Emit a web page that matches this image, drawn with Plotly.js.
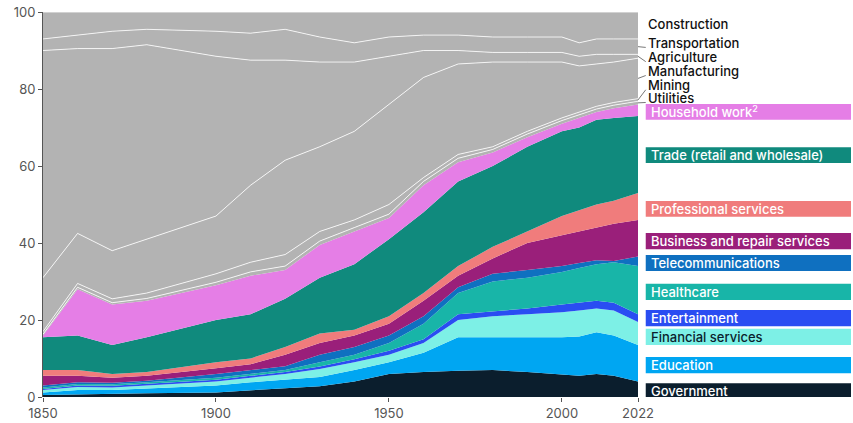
<!DOCTYPE html>
<html><head><meta charset="utf-8">
<script src="https://cdn.plot.ly/plotly-3.0.1.min.js"></script>
<style>body{margin:0;background:#fff}#chart{width:853px;height:423px}</style>
</head><body><div id="chart"></div>
<script>
var years = [1850,1860,1870,1880,1900,1910,1920,1930,1940,1950,1960,1970,1980,1990,2000,2005,2010,2015,2022];

// cumulative tops (percent), bottom to top
var topGovernment    = [0.5,0.7,0.8,1,1.2,1.8,2.3,2.8,4,6,6.5,6.8,7,6.5,5.8,5.5,6,5.5,4];
var topEducation     = [1.2,1.8,1.8,2.2,3,3.8,4.5,5.2,7,9,11.5,15.5,15.5,15.5,15.5,15.7,16.8,16,13.5];
var topFinancial     = [1.8,2.6,2.5,3,4,5,6,7.3,9,11,14,20,21,21.5,22,22.5,23,22.5,19.5];
var topEntertainment = [2.1,3,2.9,3.4,4.5,5.5,6.5,7.9,9.8,12,15,21.5,22.3,23,24,24.5,25,24.5,21.5];
var topHealthcare    = [2.5,3.4,3.3,3.8,5,6,7,9,11,14,19,27,30,31,32.5,33.5,34.5,35,34];
var topTelecom       = [3,3.8,3.7,4.2,6,7,8,11,13,16,21,28.5,32,33,34,34.8,35.5,35.3,36.5];
var topBusiness      = [5.5,5.5,5,5.5,7.5,8.5,11,14,16,19,25,31.5,36,40,42,43,44,45,46];
var topProfessional  = [7,7,6,6.5,9,10,13,16.5,17.5,21,27,34,39,43,47,48.5,50,51,53];
var topTrade         = [15.5,16,13.5,15.5,20,21.5,25.5,31,34.5,41,48,56,60,65,69,70,72,72.5,73];
var topHousehold     = [16,28,24,25,29,31.5,33,39.5,43,46.5,55,61,63.5,67.5,71,72.5,74,75,76];
var topUtilities     = [16.3,28.5,24.5,25.6,29.8,32.5,34,40.5,44,47.5,56,62,64.3,68.3,71.8,73.3,74.8,75.8,76.8];
var topMining        = [17,29.5,25.5,27,32,35,37,43,46,50,57,63,65,69,72.5,74,75.5,76.5,77.5];
var topManufacturing = [31,42.5,38,41,47,55,61.5,65,69,76,83,86.5,87,87,87,86,86.5,87,88];
var topAgriculture   = [90,90.5,90.5,91.5,88.5,87.5,87.5,87,87,88.5,90,90,89.5,89.5,89.5,88.5,89,89,89];
var topTransport     = [93,94,95,95.5,95,94.5,95.5,93.5,92,93.5,94,94,93.5,93.5,93.5,92,93,93,93];
var topConstruction  = years.map(function(){return 100;});

var names = ['Government','Education','Financial services','Entertainment','Healthcare','Telecommunications',
  'Business and repair services','Professional services','Trade (retail and wholesale)','Household work<sup>2</sup>',
  'Utilities','Mining','Manufacturing','Agriculture','Transportation','Construction'];
var tops = [topGovernment,topEducation,topFinancial,topEntertainment,topHealthcare,topTelecom,topBusiness,
  topProfessional,topTrade,topHousehold,topUtilities,topMining,topManufacturing,topAgriculture,topTransport,topConstruction];
var colors = ['#0b1e2d','#00a6f2','#7df0e6','#2a4df2','#18b5a8','#0f70c0','#9a1f7a','#f07c7c','#108a7d','#e57ee6',
  '#b3b3b3','#b3b3b3','#b3b3b3','#b3b3b3','#b3b3b3','#b3b3b3'];
// label box ranges for coloured series (value units)
var boxLo = [-0.5,6.2,13.5,18.4,25.2,32.7,38.4,46.8,60.8,72];
var boxHi = [3.6,10.4,17.7,22.6,29.4,36.9,42.6,50.9,64.9,76.1];
var grayLabelY = [77.7,81,84.7,88.3,92,96.9];

var data = [], shapes = [], ann = [];
tops.forEach(function(t,i){
  var prev = i ? tops[i-1] : years.map(function(){return 0;});
  var gray = i >= 10;
  data.push({x:years, y:t.map(function(v,k){return v-prev[k];}), type:'scatter', mode:'lines',
    stackgroup:'one', name:names[i], fillcolor:colors[i],
    line:{color:gray?'#ffffff':colors[i], width:gray?0.8:0}, hoverinfo:'name+y'});
  if (!gray) {
    shapes.push({type:'rect', xref:'paper', yref:'y', x0:1.013, x1:1.358, y0:boxLo[i], y1:boxHi[i],
      fillcolor:colors[i], line:{width:0}, layer:'above'});
    ann.push({xref:'paper', yref:'y', x:1.018, y:(boxLo[i]+boxHi[i])/2, xanchor:'left', yanchor:'middle',
      text:names[i], showarrow:false, font:{color:i===2?'#0b1e2d':'#fff', size:13, weight:500}});
  } else {
    var ly = grayLabelY[i-10];
    var mid = (prev[prev.length-1]+t[t.length-1])/2;
    ann.push({xref:'paper', yref:'y', x:1.013, y:ly, xanchor:'left', yanchor:'middle',
      text:names[i], showarrow:false, font:{color:'#111', size:13, weight:500}});
    if (i < 15) shapes.push({type:'line', xref:'paper', yref:'y', x0:1.0, x1:1.013, y0:mid, y1:ly-1.2,
      line:{color:'#555', width:0.8}});
  }
});

Plotly.newPlot('chart', data, {
  width:853, height:423, margin:{l:43, r:215, t:12, b:26},
  showlegend:false, paper_bgcolor:'#fff', plot_bgcolor:'#fff',
  font:{family:'Inter, Roboto, sans-serif', size:13, color:'#555'},
  xaxis:{range:[1850,2022], tickvals:[1850,1900,1950,2000,2022], showgrid:false, zeroline:false,
    ticks:'outside', ticklen:4, tickcolor:'#555', showline:false},
  yaxis:{range:[0,100], dtick:20, showgrid:false, zeroline:false, ticks:'outside', ticklen:4,
    tickcolor:'#555', showline:true, linecolor:'#555'},
  shapes:shapes, annotations:ann
}, {displayModeBar:false});
</script></body></html>
